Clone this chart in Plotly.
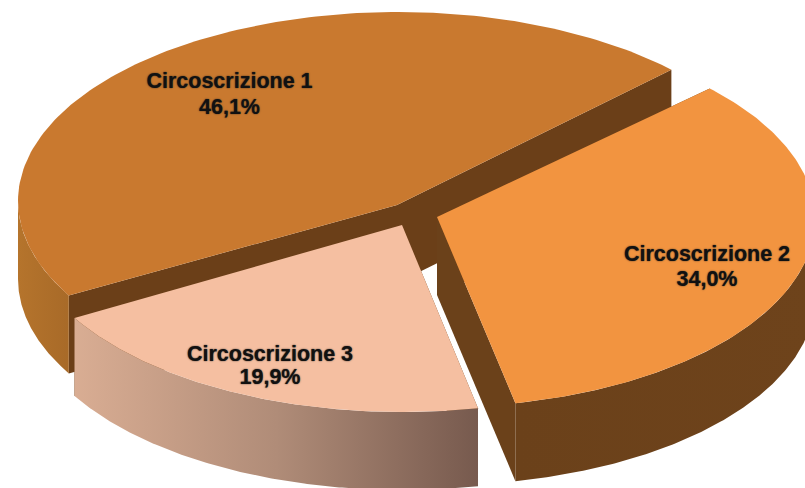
import numpy as np
import plotly.graph_objects as go

categories = ["Circoscrizione 1", "Circoscrizione 2", "Circoscrizione 3"]
values = [46.1, 34.0, 19.9]

START_ANGLE = 44.0      # where slice 2 begins, degrees, running clockwise
DEPTH = 78.0
W, H = 805, 488

# rim ellipse of each slice (exploded centres), drawn in pixel-like axis units
geom = {
    "Circoscrizione 1": dict(c=(398, 201), r=(380, 189), apex=(397, 205)),
    "Circoscrizione 2": dict(c=(440, 219), r=(375, 188), apex=(437, 217)),
    "Circoscrizione 3": dict(c=(402, 224), r=(378, 188), apex=(402, 225)),
}
colors = {
    "Circoscrizione 1": dict(top="#C9792F", cut="#6B3F18", side=[[0, "#B5742C"], [1, "#A86A28"]]),
    "Circoscrizione 2": dict(top="#F29440", cut="#6B411A", side=[[0, "#6B411A"], [1, "#6E431B"]]),
    "Circoscrizione 3": dict(top="#F5BFA1", cut="#6B411A", side=[[0, "#D9AD93"], [0.5, "#B08C78"], [1, "#775A4E"]]),
}
label_pos = {
    "Circoscrizione 1": (229.5, 83, 109),
    "Circoscrizione 2": (707, 256, 281),
    "Circoscrizione 3": (270, 356, 379),
}

# angular extent from the values: slice 2, slice 3, slice 1, clockwise
order = [1, 2, 0]
spans = {}
a = START_ANGLE
for i in order:
    sweep = values[i] / sum(values) * 360
    spans[categories[i]] = (a, a - sweep)
    a -= sweep


def rim(name, a0, a1, n=160):
    g = geom[name]
    t = np.radians(np.linspace(a0, a1, n))
    return g["c"][0] + g["r"][0] * np.cos(t), g["c"][1] - g["r"][1] * np.sin(t)


def poly(xs, ys, color=None, grad=None):
    kw = dict(fillcolor=color) if color else dict(
        fillgradient=dict(type="horizontal", colorscale=grad, start=float(np.min(xs)), stop=float(np.max(xs))))
    return go.Scatter(x=list(xs) + [xs[0]], y=list(ys) + [ys[0]], mode="lines", fill="toself",
                      line=dict(width=0), hoverinfo="skip", showlegend=False, **kw)


fig = go.Figure()

# outer wall runs over the lower half of the rim only
wall_range = {
    "Circoscrizione 1": lambda a0, a1: (a0, -180.0),
    "Circoscrizione 2": lambda a0, a1: (0.0, a1),
    "Circoscrizione 3": lambda a0, a1: (a0, a1),
}

for name in categories:
    a0, a1 = spans[name]
    g, col = geom[name], colors[name]
    ax, ay = g["apex"]
    ex, ey = rim(name, a0, a1)

    # flat cut faces
    for ix in (0, -1):
        fig.add_trace(poly([ax, ex[ix], ex[ix], ax], [ay, ey[ix], ey[ix] + DEPTH, ay + DEPTH], color=col["cut"]))

    hi, lo = wall_range[name](a0, a1)
    sx, sy = rim(name, hi, lo)
    fig.add_trace(poly(np.r_[sx, sx[::-1]], np.r_[sy, sy[::-1] + DEPTH], grad=col["side"]))

    # top
    fig.add_trace(poly(np.r_[ax, ex], np.r_[ay, ey], color=col["top"]))

font = dict(family="Liberation Sans", size=21.5, color="#111111", weight="bold",
            shadow="0px 0px 1.5px #222222")
for cat, val in zip(categories, values):
    x, y1, y2 = label_pos[cat]
    fig.add_trace(go.Scatter(x=[x, x], y=[y1, y2], mode="text",
                             text=[cat, f"{val:.1f}%".replace(".", ",")],
                             textposition="middle center", textfont=font,
                             hoverinfo="skip", showlegend=False))

fig.update_layout(
    width=W, height=H, margin=dict(l=0, r=0, t=0, b=0),
    paper_bgcolor="white", plot_bgcolor="white", showlegend=False,
    xaxis=dict(range=[0, W], visible=False, fixedrange=True),
    yaxis=dict(range=[H, 0], visible=False, fixedrange=True),
)
fig.write_html("out.html", config=dict(displayModeBar=False),
               post_script="document.body.style.margin='0';document.body.style.overflow='hidden';")
